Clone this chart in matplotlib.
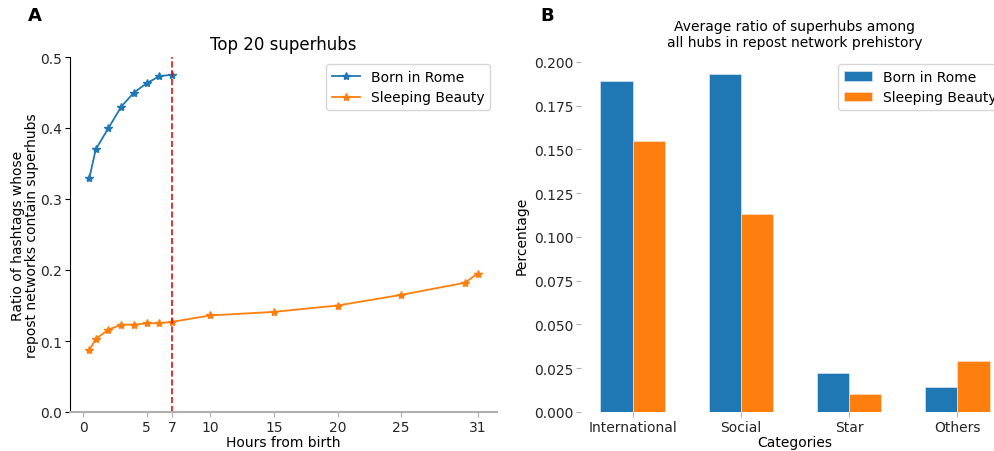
import numpy as np
import matplotlib.pyplot as plt

hours = [0.5, 1, 2, 3, 4, 5, 6, 7, 10, 15, 20, 25, 30, 31]
rome_hours = hours[:8]
rome_ratio = [0.330, 0.370, 0.400, 0.430, 0.450, 0.463, 0.473, 0.475]
beauty_ratio = [0.087, 0.103, 0.116, 0.123, 0.123, 0.125, 0.125, 0.127,
                0.136, 0.141, 0.150, 0.165, 0.182, 0.195]
xtick_vals = [0, 5, 7, 10, 15, 20, 25, 31]

categories = ['International', 'Social', 'Star', 'Others']
rome_share = [0.189, 0.193, 0.0225, 0.0145]
beauty_share = [0.155, 0.113, 0.0105, 0.029]

fig = plt.figure(figsize=(9.95, 4.52), dpi=100)

# panel A
ax1 = fig.add_axes([70/995, 1 - 413/452, 427/995, 355/452])
ax1.plot(rome_hours, rome_ratio, marker='*', color='#1f77b4', lw=1.3, ms=6, label='Born in Rome')
ax1.plot(hours, beauty_ratio, marker='*', color='#ff7f0e', lw=1.3, ms=6, label='Sleeping Beauty')
ax1.axvline(7, color='#e01010', ls='--', lw=1.2)
ax1.set_ylim(0, 0.5)
ax1.set_xticks(xtick_vals)
ax1.set_title('Top 20 superhubs', fontsize=12)
ax1.set_xlabel('Hours from birth', fontsize=10, labelpad=1)
ax1.set_ylabel('Ratio of hashtags whose\nrepost networks contain superhubs', fontsize=10,
               linespacing=1.0, labelpad=1)
ax1.legend(loc='upper right', fontsize=10)
ax1.spines['top'].set_visible(False)
ax1.spines['right'].set_visible(False)
ax1.spines['bottom'].set_color('#b0b0b0')
ax1.spines['bottom'].set_linewidth(1.5)
ax1.spines['left'].set_linewidth(0.8)
ax1.tick_params(axis='x', colors='#b0b0b0', labelcolor='#262626', labelsize=10, pad=2)
ax1.tick_params(axis='y', labelcolor='#262626', labelsize=10, pad=2)

# panel B
ax2 = fig.add_axes([581/995, 1 - 413/452, 428/995, 355/452])
x = np.arange(len(categories))
w = 0.3
ax2.bar(x - w/2, rome_share, w, color='#1f77b4', edgecolor='#d6e4f0', linewidth=0.5, label='Born in Rome')
ax2.bar(x + w/2, beauty_share, w, color='#ff7f0e', edgecolor='#fbe0c8', linewidth=0.5, label='Sleeping Beauty')
ax2.set_xticks(x)
ax2.set_xticklabels(categories)
ax2.set_ylim(0, 0.2027)
ax2.set_yticks([0, 0.025, 0.05, 0.075, 0.1, 0.125, 0.15, 0.175, 0.2])
ax2.yaxis.set_major_formatter(plt.FormatStrFormatter('%.3f'))
ax2.set_title('Average ratio of superhubs among\nall hubs in repost network prehistory', fontsize=10, pad=8)
ax2.set_xlabel('Categories', fontsize=10, labelpad=1)
ax2.set_ylabel('Percentage', fontsize=10, labelpad=4)
ax2.legend(loc='upper right', fontsize=10)
for s in ax2.spines.values():
    s.set_visible(False)
ax2.tick_params(colors='#b0b0b0', labelcolor='#262626', labelsize=10, pad=2)

fig.text(28/995, 1 - 16/452, 'A', fontsize=13, fontweight='bold', va='center')
fig.text(540/995, 1 - 16/452, 'B', fontsize=13, fontweight='bold', va='center')

fig.savefig('out.png', dpi=100)
